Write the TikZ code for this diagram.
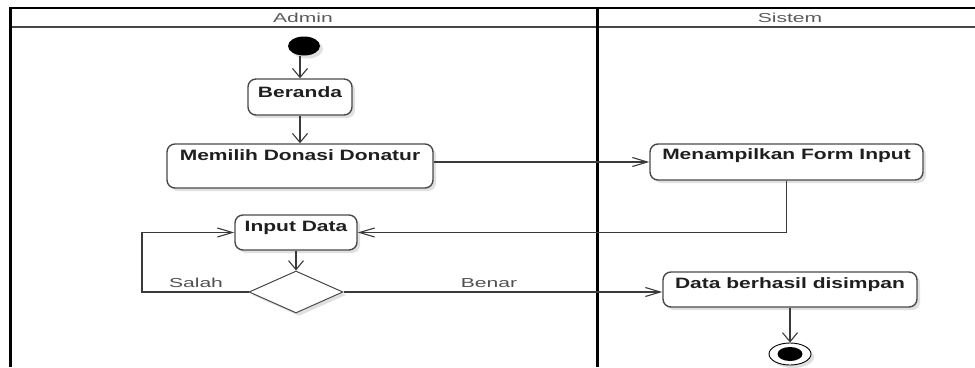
\documentclass[tikz,border=0pt]{standalone}
\usepackage{fontspec}
\setmainfont{Liberation Sans}
\newfontfamily\boxfont[FakeStretch=1.40]{Liberation Sans Bold}
\newfontfamily\headfont[FakeStretch=1.62]{Liberation Sans}
\newfontfamily\labfont[FakeStretch=1.62]{Liberation Sans}
\usetikzlibrary{shapes.geometric,arrows.meta,shadows}
\definecolor{edgecol}{HTML}{3A3A3A}
\definecolor{boxcol}{HTML}{4A4A4A}
\definecolor{headtxt}{HTML}{5A5A5A}
\definecolor{labtxt}{HTML}{505050}
\tikzset{
  softshadow/.style={drop shadow={shadow xshift=3pt,shadow yshift=-3pt,fill=black,opacity=0.12}},
  actbox/.style={draw=boxcol, line width=1.4pt, rounded corners=8pt, fill=white,
    inner xsep=0pt, inner ysep=0pt, font=\boxfont\fontsize{15}{17}\selectfont,
    text=black!88, softshadow},
  decbox/.style={diamond, draw=boxcol, line width=1pt, fill=white, inner sep=0pt,
    minimum width=94pt, minimum height=42pt, softshadow},
  flowv/.style={draw=edgecol, line width=1.1pt, -{Straight Barb[length=9pt,width=15pt,line width=1.1pt]}},
  flowh/.style={draw=edgecol, line width=1.1pt, -{Straight Barb[length=15pt,width=9pt,line width=1.1pt]}},
  headlab/.style={font=\headfont\fontsize{13}{15}\selectfont, text=headtxt},
  guardlab/.style={font=\labfont\fontsize{13}{15}\selectfont, text=labtxt},
}
\begin{document}
\begin{tikzpicture}[x=1pt,y=-1pt]
\useasboundingbox (0,0) rectangle (975,367);
% swimlane frame
\draw[line width=2.2pt, gray!55!black] (10,27) -- (975,27);
\draw[line width=2.6pt, black] (10,8) -- (975,8);
\draw[line width=3pt, black] (10,6.7) -- (10,367);
\draw[line width=3pt, black] (597,6.7) -- (597,367);
\node[headlab] (hadmin) at (303,18) {Admin};
\node[headlab] (hsistem) at (790,18) {Sistem};

% nodes
\node[ellipse, fill=black, minimum width=32pt, minimum height=19pt, inner sep=0pt, softshadow] (start) at (304,46) {};
\node[actbox, minimum width=104pt, text height=18pt, text depth=18pt] (beranda) at (300,97) {Beranda};
\node[actbox, minimum width=266pt, text height=16pt, text depth=28pt] (memilih) at (300,166) {Memilih Donasi Donatur};
\node[actbox, minimum width=273pt, text height=15pt, text depth=21pt] (form) at (786.5,162) {Menampilkan Form Input};
\node[actbox, minimum width=122pt, text height=16pt, text depth=19pt] (input) at (296,232.5) {Input Data};
\node[decbox] (dec) at (296,292) {};
\node[actbox, minimum width=254pt, text height=16pt, text depth=19pt] (simpan) at (790,289.5) {Data berhasil disimpan};
\node[ellipse, draw=black, line width=0.9pt, fill=white, minimum width=42pt, minimum height=22pt, inner sep=0pt, softshadow,
  path picture={\fill[black] (path picture bounding box.center) ellipse (12.5pt and 7pt);}] (endn) at (790,354) {};
\coordinate (loopc) at (142,292);

% connectors
\draw[flowv] (start.south -| beranda.north) -- (beranda.north);
\draw[flowv] (beranda) -- (memilih);
\draw[flowh] (form.west -| memilih.east) -- (form.west);
\draw[flowh] (form.south) |- (input.east);
\draw[flowv] (input) -- (dec);
\draw[flowh] (dec.west) -- (loopc) |- (input.west);
\draw[flowh] (dec.east) -- (dec.east -| simpan.west);
\draw[flowv] (simpan.south -| endn.north) -- (endn.north);

% guards
\node[guardlab] (salah) at (196,283) {Salah};
\node[guardlab] (benar) at (489,283) {Benar};
\end{tikzpicture}
\end{document}
